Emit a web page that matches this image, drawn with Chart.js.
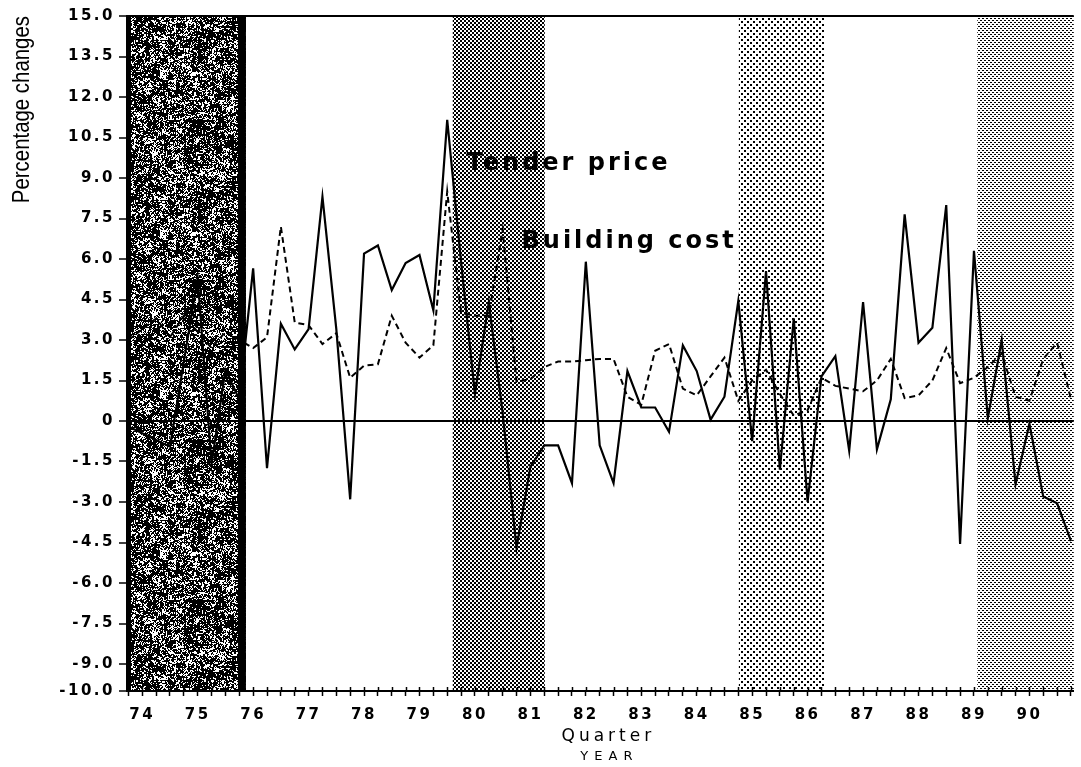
<!DOCTYPE html>
<html>
<head>
<meta charset="utf-8">
<script src="https://cdn.jsdelivr.net/npm/chart.js@4.4.1/dist/chart.umd.min.js"></script>
<style>
  html, body { margin: 0; padding: 0; background: #fff; }
  #wrap { width: 1081px; height: 767px; }
  canvas { display: block; }
</style>
</head>
<body>
<div id="wrap"><canvas id="chart" width="1081" height="767"></canvas></div>
<script>
// Quarterly percentage changes, 1973 Q4 - 1990 Q4
const quarters = [
  '1973Q4',
  '1974Q1','1974Q2','1974Q3','1974Q4',
  '1975Q1','1975Q2','1975Q3','1975Q4',
  '1976Q1','1976Q2','1976Q3','1976Q4',
  '1977Q1','1977Q2','1977Q3','1977Q4',
  '1978Q1','1978Q2','1978Q3','1978Q4',
  '1979Q1','1979Q2','1979Q3','1979Q4',
  '1980Q1','1980Q2','1980Q3','1980Q4',
  '1981Q1','1981Q2','1981Q3','1981Q4',
  '1982Q1','1982Q2','1982Q3','1982Q4',
  '1983Q1','1983Q2','1983Q3','1983Q4',
  '1984Q1','1984Q2','1984Q3','1984Q4',
  '1985Q1','1985Q2','1985Q3','1985Q4',
  '1986Q1','1986Q2','1986Q3','1986Q4',
  '1987Q1','1987Q2','1987Q3','1987Q4',
  '1988Q1','1988Q2','1988Q3','1988Q4',
  '1989Q1','1989Q2','1989Q3','1989Q4',
  '1990Q1','1990Q2','1990Q3','1990Q4'
];

const tenderPrice = [
  -0.2,
  -0.45, -0.7, -0.95, 2.2,
  5.3, -1.6, 1.9, 0.8,
  5.65, -1.75, 3.6, 2.65,
  3.4, 8.3, 3.4, -2.9,
  6.2, 6.5, 4.85, 5.85,
  6.15, 4.1, 11.15, 5.9,
  1.0, 4.4, 0.3, -4.7,
  -1.7, -0.9, -0.9, -2.3,
  5.9, -0.9, -2.3, 1.85,
  0.5, 0.5, -0.4, 2.8,
  1.85, 0.05, 0.9, 4.45,
  -0.75, 5.55, -1.8, 3.8,
  -3.0, 1.65, 2.4, -1.1,
  4.4, -1.05, 0.8, 7.65,
  2.9, 3.45, 8.0, -4.55,
  6.3, 0.1, 3.0, -2.35,
  -0.1, -2.8, -3.05, -4.45
];

const buildingCost = [
  3.0,
  3.4, 3.8, 3.1, 3.9,
  3.3, 2.7, 3.3, 3.0,
  2.7, 3.1, 7.2, 3.65,
  3.55, 2.85, 3.25, 1.6,
  2.05, 2.1, 3.9, 2.9,
  2.35, 2.8, 8.5, 4.0,
  3.9, 3.9, 7.1, 1.45,
  1.55, 2.0, 2.2, 2.2,
  2.25, 2.3, 2.3, 0.9,
  0.6, 2.6, 2.85, 1.2,
  0.95, 1.65, 2.35, 0.75,
  1.5, 1.9, 1.0, 0.2,
  0.4, 1.6, 1.3, 1.2,
  1.1, 1.5, 2.3, 0.85,
  0.95, 1.5, 2.7, 1.4,
  1.6, 2.0, 2.5, 0.9,
  0.75, 2.3, 2.9, 0.8
];

const yearLabels = ['74','75','76','77','78','79','80','81','82','83','84','85','86','87','88','89','90'];
const yTickValues = [15, 13.5, 12, 10.5, 9, 7.5, 6, 4.5, 3, 1.5, 0, -1.5, -3, -4.5, -6, -7.5, -9, -10];

// Shaded periods (in decimal years) and their fill style
const shadeFrom  = [1973.72, 1979.60, 1984.76, 1989.06];
const shadeTo    = [1975.87, 1981.26, 1986.31, 1990.80];
const shadeKinds = ['dark', 'fine', 'sparse', 'light'];

// Line captions anchored in data units
const captionText = ['Tender price', 'Building cost'];
const captionX    = [1979.85, 1980.84];
const captionY    = [9.3, 6.4];

const toYear = q => { const [y, n] = q.split('Q'); return Number(y) + (Number(n) - 1) / 4; };
const xValues = quarters.map(toYear);

// ---- fill textures ----
function hash(x, y, s) {
  let n = (Math.imul(x, 374761393) + Math.imul(y, 668265263) + Math.imul(s, 144665)) | 0;
  n = Math.imul(n ^ (n >>> 13), 1274126177);
  n = n ^ (n >>> 16);
  return (n >>> 0) / 4294967296;
}
function makeTexture(ctx, kind) {
  const c = document.createElement('canvas');
  let w = 4, h = 4;
  if (kind === 'dark') { w = 160; h = 160; }
  if (kind === 'sparse') { w = 6; h = 6; }
  c.width = w; c.height = h;
  const g = c.getContext('2d');
  g.fillStyle = '#fff';
  g.fillRect(0, 0, w, h);
  g.fillStyle = '#000';
  if (kind === 'dark') {
    for (let y = 0; y < h; y++) {
      for (let x = 0; x < w; x++) {
        const v = 0.45 * hash(x, y, 1) + 0.35 * hash(x >> 1, y >> 1, 2) + 0.2 * hash(x >> 3, y >> 3, 3);
        if (v < 0.58) g.fillRect(x, y, 1, 1);
      }
    }
  } else if (kind === 'fine') {
    g.fillRect(0, 0, 2, 2);
    g.fillRect(2, 2, 2, 2);
  } else if (kind === 'sparse') {
    g.fillRect(0, 0, 2, 2);
    g.fillRect(3, 3, 2, 2);
  } else {
    g.fillRect(0, 0, 2, 1);
    g.fillRect(2, 2, 2, 1);
  }
  return ctx.createPattern(c, 'repeat');
}

const shadingPlugin = {
  id: 'shading',
  beforeDraw(chart) {
    const { ctx, chartArea: a, scales: { x } } = chart;
    ctx.save();
    ctx.fillStyle = '#fff';
    ctx.fillRect(0, 0, chart.width, chart.height);
    shadeKinds.forEach((kind, i) => {
      const x0 = Math.max(a.left, x.getPixelForValue(shadeFrom[i]));
      const x1 = Math.min(a.right, x.getPixelForValue(shadeTo[i]));
      ctx.fillStyle = makeTexture(ctx, kind);
      ctx.fillRect(x0, a.top, x1 - x0, a.bottom - a.top);
      if (kind === 'dark') {
        ctx.fillStyle = '#000';
        ctx.fillRect(x1 - 8, a.top, 8, a.bottom - a.top);
        ctx.fillRect(x0, a.top, 4, a.bottom - a.top);
      }
    });
    ctx.restore();
    // spaced lettering for the tick labels
    ctx.letterSpacing = '2.5px';
  },
  afterDraw(chart) {
    const { ctx, chartArea: a, scales: { x } } = chart;
    ctx.save();
    // upper half of the quarter tick crosses
    ctx.strokeStyle = '#000';
    ctx.lineWidth = 1.5;
    x.ticks.forEach(t => {
      const px = Math.round(x.getPixelForValue(t.value)) + 0.5;
      ctx.beginPath();
      ctx.moveTo(px, a.bottom - 4);
      ctx.lineTo(px, a.bottom);
      ctx.stroke();
    });
    ctx.fillStyle = '#000';
    // line captions
    ctx.font = 'bold 24px "DejaVu Sans"';
    ctx.letterSpacing = '3px';
    ctx.textAlign = 'left';
    ctx.textBaseline = 'alphabetic';
    captionText.forEach((t, i) => {
      ctx.fillText(t, x.getPixelForValue(captionX[i]), chart.scales.y.getPixelForValue(captionY[i]));
    });
    // axis titles
    const cx = (a.left + a.right) / 2;
    ctx.textAlign = 'center';
    ctx.textBaseline = 'middle';
    ctx.font = '17px "DejaVu Sans"';
    ctx.letterSpacing = '4px';
    ctx.fillText('Quarter', cx + 8, 737);
    ctx.font = '13px "DejaVu Sans"';
    ctx.letterSpacing = '6px';
    ctx.fillText('YEAR', cx + 9, 757);
    ctx.font = '24px "Liberation Sans", sans-serif';
    ctx.letterSpacing = '0px';
    ctx.translate(22, a.top);
    ctx.rotate(-Math.PI / 2);
    ctx.scale(0.85, 1);
    ctx.textAlign = 'right';
    ctx.fillText('Percentage changes', 0, 0);
    ctx.restore();
    ctx.letterSpacing = '0px';
  }
};

Chart.defaults.color = '#000';

new Chart(document.getElementById('chart').getContext('2d'), {
  type: 'line',
  data: {
    datasets: [
      {
        label: 'Tender price',
        data: xValues.map((x, k) => ({ x, y: tenderPrice[k] })),
        borderColor: '#000',
        borderWidth: 2.2,
        pointRadius: 0,
        tension: 0,
        fill: false
      },
      {
        label: 'Building cost',
        data: xValues.map((x, k) => ({ x, y: buildingCost[k] })),
        borderColor: '#000',
        borderWidth: 2,
        borderDash: [6, 4],
        pointRadius: 0,
        tension: 0,
        fill: false
      }
    ]
  },
  options: {
    responsive: false,
    animation: false,
    devicePixelRatio: 1,
    layout: { padding: { left: 0, right: 3, top: 16, bottom: 0 } },
    plugins: { legend: { display: false }, tooltip: { enabled: false } },
    scales: {
      x: {
        type: 'linear',
        min: 1973.725,
        max: 1990.8,
        afterBuildTicks: s => { s.ticks = xValues.map(v => ({ value: v })); },
        afterFit: s => { s.height = 76; },
        ticks: {
          autoSkip: false,
          maxRotation: 0,
          padding: 10,
          font: { family: 'DejaVu Sans', weight: 'bold', size: 15 },
          callback: v => {
            const yr = Math.round(v);
            return Math.abs(v - yr) < 1e-6 ? (yearLabels[yr - 1974] || '') : '';
          }
        },
        grid: { drawOnChartArea: false, drawTicks: true, tickLength: 5, tickColor: '#000', tickWidth: 1.5 },
        border: { color: '#000', width: 2 }
      },
      y: {
        min: -10,
        max: 15,
        afterBuildTicks: s => { s.ticks = yTickValues.map(v => ({ value: v })); },
        afterFit: s => { s.width = 127; },
        ticks: {
          padding: 4,
          font: { family: 'DejaVu Sans', weight: 'bold', size: 15 },
          callback: v => (v === 0 ? '0' : v.toFixed(1))
        },
        grid: {
          color: c => (c.tick && (c.tick.value === 0 || c.tick.value === 15)) ? '#000' : 'rgba(0,0,0,0)',
          lineWidth: 2,
          tickColor: '#000',
          tickLength: 8,
          tickWidth: 1.5
        },
        border: { color: '#000', width: 2 }
      }
    }
  },
  plugins: [shadingPlugin]
});
</script>
</body>
</html>
